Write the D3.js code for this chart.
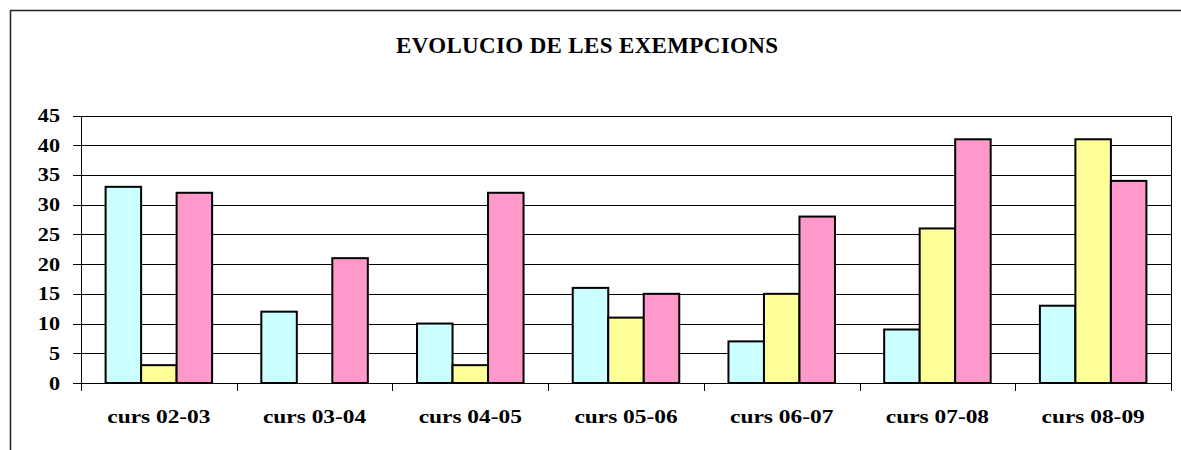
<!DOCTYPE html>
<html lang="ca">
  <head>
    <meta charset="utf-8">
    <title>Evolucio de les exempcions</title>
    <style>
      body { margin: 0; background: #fff; }
      svg text { font-family: "Liberation Serif", "Times New Roman", Times, serif; font-weight: bold; fill: #000; }
      .grid line { stroke: #000; stroke-width: 1; shape-rendering: crispEdges; }
      .bars rect { stroke: #000; stroke-width: 2; }
    </style>
  </head>
  <body>
    <svg id="chart" width="1181" height="450"></svg>
<script src="https://d3js.org/d3.v7.min.js"></script>
<script>

var categories = ["curs 02-03", "curs 03-04", "curs 04-05", "curs 05-06", "curs 06-07", "curs 07-08", "curs 08-09"];
var series = ["serie1", "serie2", "serie3"];
var serie1 = [33, 12, 10, 16, 7, 9, 13];
var serie2 = [3, 0, 3, 11, 15, 26, 41];
var serie3 = [32, 21, 32, 15, 28, 41, 34];
var yTicks = [0, 5, 10, 15, 20, 25, 30, 35, 40, 45];
var colors = ["#ccffff", "#ffff99", "#ff99cc"];
var title = "EVOLUCIO DE LES EXEMPCIONS";

var values = [serie1, serie2, serie3];

var svg = d3.select("svg#chart");
var plotLeft = 81, plotRight = 1171, plotTop = 115.5, plotBottom = 383;
var stretch = 1.2;

// outer frame, runs off the bottom and right of the picture
svg.append("path")
    .attr("d", "M10.5,450V10.5H1181")
    .attr("fill", "none")
    .attr("stroke", "#222")
    .attr("stroke-width", 1.5);

svg.append("text")
    .attr("x", 587)
    .attr("y", 53)
    .attr("text-anchor", "middle")
    .attr("font-size", 23)
    .attr("textLength", 382)
    .text(title);

var x0 = d3.scaleBand().domain(categories).range([plotLeft, plotRight]).paddingInner(0.316).paddingOuter(0.158);
var x1 = d3.scaleBand().domain(series).range([0, x0.bandwidth()]).padding(0);
var y = d3.scaleLinear().domain([0, 45]).range([plotBottom, plotTop]);

// gridlines
svg.append("g").attr("class", "grid")
  .selectAll("line")
  .data(yTicks)
  .enter().append("line")
    .attr("x1", plotLeft - 8)
    .attr("x2", plotRight)
    .attr("y1", function(d) { return Math.round(y(d)) + 0.5; })
    .attr("y2", function(d) { return Math.round(y(d)) + 0.5; });

// axes lines
var g = svg.append("g").attr("class", "grid");
g.append("line").attr("x1", plotLeft + 0.5).attr("x2", plotLeft + 0.5).attr("y1", plotTop).attr("y2", plotBottom + 8);
g.append("line").attr("x1", plotRight + 0.5).attr("x2", plotRight + 0.5).attr("y1", plotTop).attr("y2", plotBottom + 8);
g.selectAll("line.cat")
  .data(categories.slice(1))
  .enter().append("line")
    .attr("class", "cat")
    .attr("x1", function(d) { return Math.round(x0(d) - x0.step() * x0.paddingInner() / 2) + 0.5; })
    .attr("x2", function(d) { return Math.round(x0(d) - x0.step() * x0.paddingInner() / 2) + 0.5; })
    .attr("y1", plotBottom)
    .attr("y2", plotBottom + 8);

// bars
var groups = svg.append("g").attr("class", "bars")
  .selectAll("g")
  .data(categories)
  .enter().append("g")
    .attr("transform", function(d) { return "translate(" + x0(d) + ",0)"; });

groups.selectAll("rect")
  .data(function(d, i) { return series.map(function(s, j) { return {s: s, j: j, v: values[j][i]}; }); })
  .enter().filter(function(d) { return d.v > 0; }).append("rect")
    .attr("x", function(d) { return x1(d.s); })
    .attr("width", x1.bandwidth())
    .attr("y", function(d) { return y(d.v); })
    .attr("height", function(d) { return plotBottom - y(d.v); })
    .attr("fill", function(d) { return colors[d.j]; });

// y labels
svg.append("g")
  .selectAll("text")
  .data(yTicks)
  .enter().append("text")
    .attr("transform", function(d) { return "translate(60," + (y(d) + 6.5) + ") scale(" + stretch + ",1)"; })
    .attr("text-anchor", "end")
    .attr("font-size", 18.5)
    .text(function(d) { return d; });

// x labels
svg.append("g")
  .selectAll("text")
  .data(categories)
  .enter().append("text")
    .attr("transform", function(d) { return "translate(" + (x0(d) + x0.bandwidth() / 2) + ",423) scale(" + stretch + ",1)"; })
    .attr("text-anchor", "middle")
    .attr("font-size", 19.5)
    .text(function(d) { return d; });

</script>
  </body>
</html>
